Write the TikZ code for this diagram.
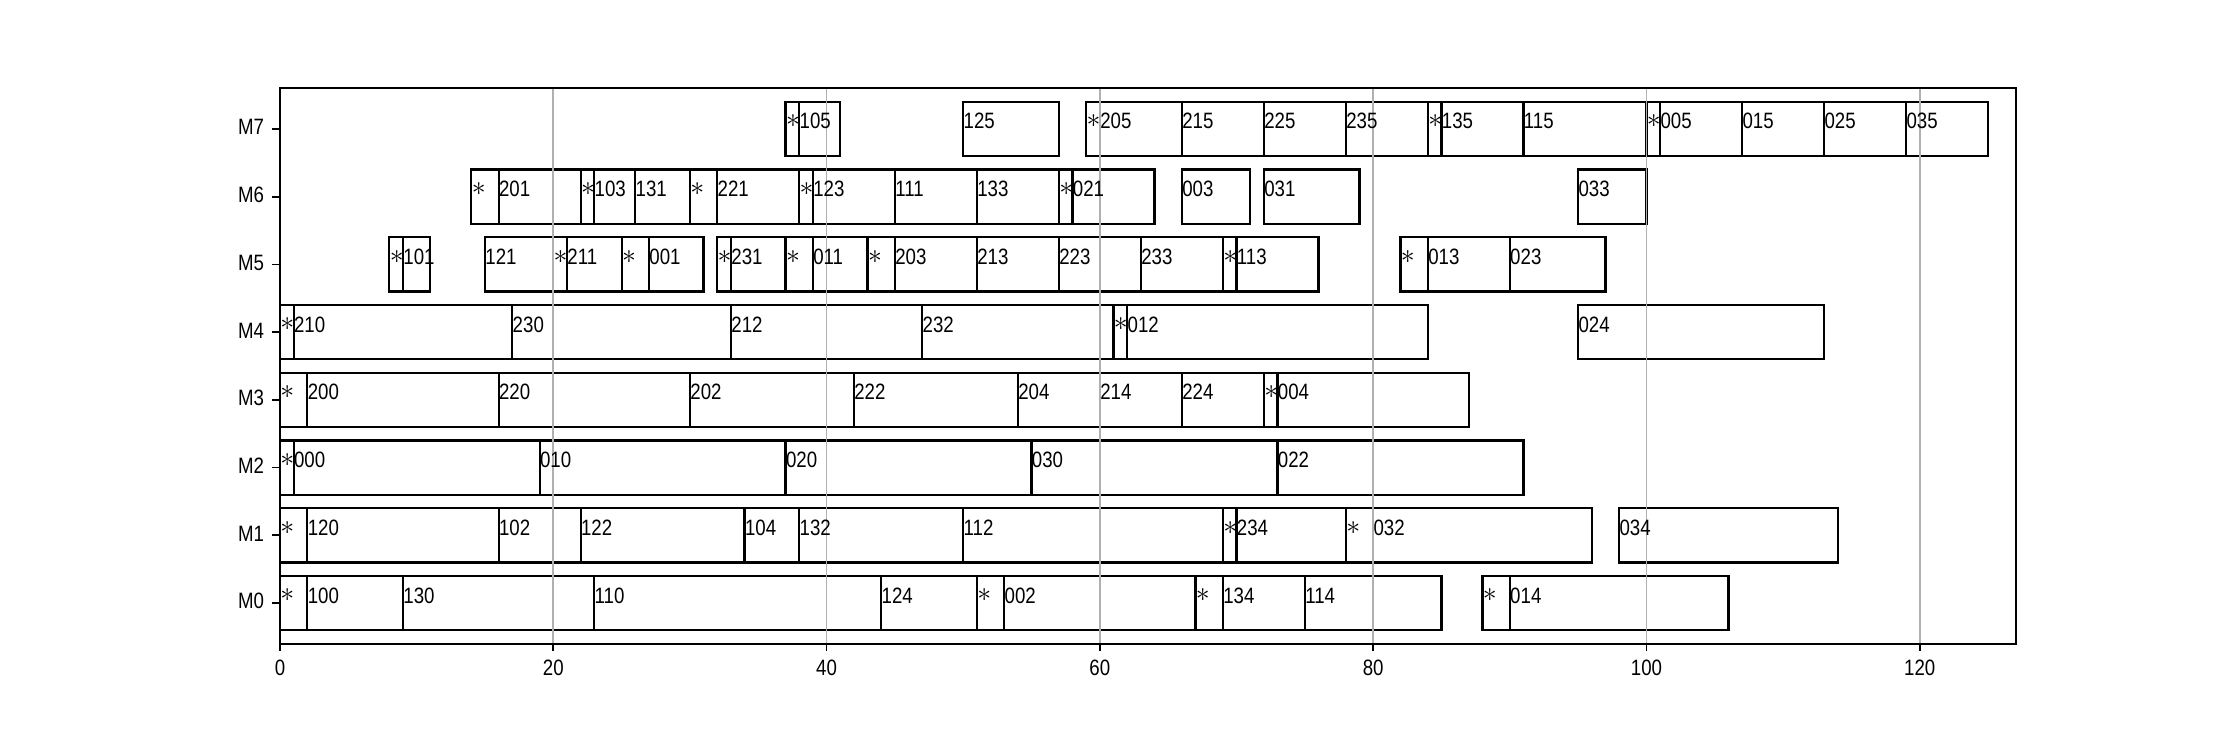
\documentclass[tikz,border=0pt]{standalone}
\usepackage{graphicx}
\usepackage{fontspec}
\setmainfont[FakeStretch=0.84]{Liberation Sans}
\definecolor{gridc}{HTML}{B0B0B0}
\newcommand{\st}{\raisebox{0.6pt}{\scalebox{1.25}{$\ast$}}}
\def\segs{%
7/37/38/\st, 7/38/41/105, 7/50/57/125, 7/59/60/\st, 7/60/66/205, 7/66/72/215, 7/72/78/225, 7/78/84/235, 7/84/85/\st, 7/85/91/135, 7/91/100/115, 7/100/101/\st, 7/101/107/005, 7/107/113/015, 7/113/119/025, 7/119/125/035,
6/14/16/\st, 6/16/22/201, 6/22/23/\st, 6/23/26/103, 6/26/30/131, 6/30/32/\st, 6/32/38/221, 6/38/39/\st, 6/39/45/123, 6/45/51/111, 6/51/57/133, 6/57/58/\st, 6/58/64/021, 6/66/71/003, 6/72/79/031, 6/95/100/033,
5/8/9/\st, 5/9/11/101, 5/15/20/121, 5/20/21/\st, 5/21/25/211, 5/25/27/\st, 5/27/31/001, 5/32/33/\st, 5/33/37/231, 5/37/39/\st, 5/39/43/011, 5/43/45/\st, 5/45/51/203, 5/51/57/213, 5/57/63/223, 5/63/69/233, 5/69/70/\st, 5/70/76/113, 5/82/84/\st, 5/84/90/013, 5/90/97/023,
4/0/1/\st, 4/1/17/210, 4/17/33/230, 4/33/47/212, 4/47/61/232, 4/61/62/\st, 4/62/84/012, 4/95/113/024,
3/0/2/\st, 3/2/16/200, 3/16/30/220, 3/30/42/202, 3/42/54/222, 3/54/60/204, 3/60/66/214, 3/66/72/224, 3/72/73/\st, 3/73/87/004,
2/0/1/\st, 2/1/19/000, 2/19/37/010, 2/37/55/020, 2/55/73/030, 2/73/91/022,
1/0/2/\st, 1/2/16/120, 1/16/22/102, 1/22/34/122, 1/34/38/104, 1/38/50/132, 1/50/69/112, 1/69/70/\st, 1/70/78/234, 1/78/80/\st, 1/80/96/032, 1/98/114/034,
0/0/2/\st, 0/2/9/100, 0/9/23/130, 0/23/44/110, 0/44/51/124, 0/51/53/\st, 0/53/67/002, 0/67/69/\st, 0/69/75/134, 0/75/85/114, 0/88/90/\st, 0/90/106/014}
\begin{document}
\begin{tikzpicture}[x=6.1488pt,y=30.48pt,
  bar/.style={draw=black,line width=1pt,fill=white},
  lbl/.style={anchor=base west,inner sep=0pt,font=\fontsize{10}{12}\selectfont},
  gridline/.style={draw=gridc,line width=0.8pt},
  spine/.style={draw=black,line width=0.8pt},
  tick/.style={draw=black,line width=0.8pt},
  ticklbl/.style={inner sep=0pt,font=\fontsize{10}{12}\selectfont}]
\useasboundingbox (-20.492,-1.9626) rectangle (143.44,8.9035);
% bars
\foreach \r/\a/\b/\t in \segs {
  \draw[bar] (\a,\r-0.4) rectangle (\b,\r+0.4);
}
% grid
\foreach \g in {20,40,60,80,100,120} {
  \draw[gridline] (\g,-0.6) -- (\g,7.6);
}
% labels
\foreach \r/\a/\b/\t in \segs {
  \node[lbl] (l-\r-\a) at (\a,\r) {\t};
}
% axes frame
\draw[spine] (0,-0.6) rectangle (127.05,7.6);
% x ticks
\foreach \g in {0,20,40,60,80,100,120} {
  \coordinate (xt\g) at (\g,-0.6);
  \draw[tick] (xt\g) -- ++(0,-3.5pt);
  \node[ticklbl,anchor=north] (xl\g) at ([yshift=-7pt]xt\g) {\g};
}
% y ticks
\foreach \r in {0,...,7} {
  \coordinate (yt\r) at (0,\r);
  \draw[tick] (yt\r) -- ++(-3.5pt,0);
  \node[ticklbl,anchor=mid east] (yl\r) at ([xshift=-7pt]yt\r) {M\r};
}
\end{tikzpicture}
\end{document}
